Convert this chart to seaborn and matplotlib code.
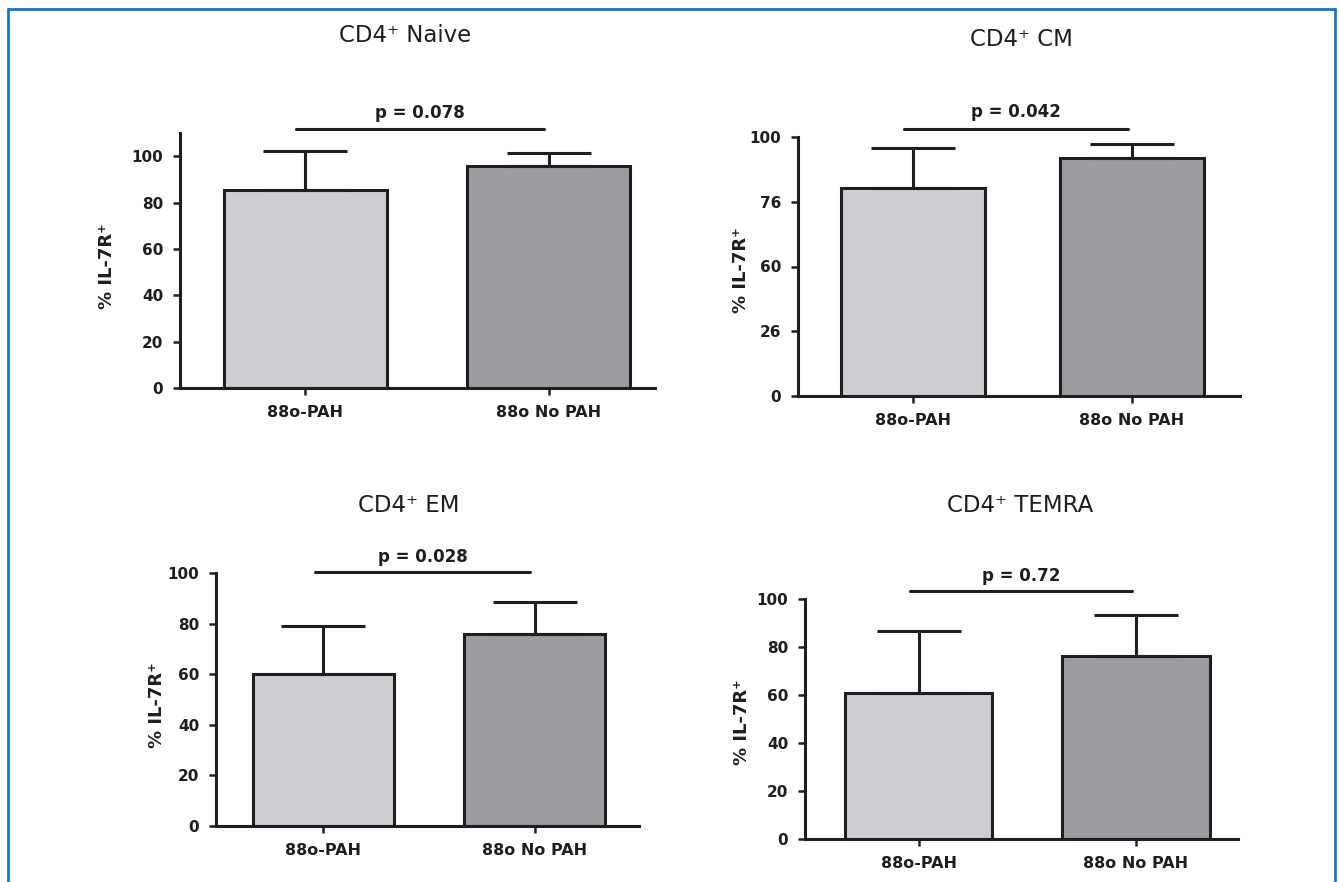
import matplotlib
matplotlib.use("Agg")
import matplotlib.pyplot as plt
import seaborn as sns
import pandas as pd
from matplotlib.lines import Line2D

# ---------------- data ----------------
groups = ["88o-PAH", "88o No PAH"]
titles = ["CD4\u207a Naive", "CD4\u207a CM", "CD4\u207a EM", "CD4\u207a TEMRA"]
means_naive = [85.3, 95.6]
sd_naive = [16.9, 5.7]
means_cm = [80.4, 91.9]
sd_cm = [15.4, 5.4]
means_em = [60.1, 75.9]
sd_em = [18.9, 12.6]
means_temra = [60.8, 76.3]
sd_temra = [25.9, 17.0]
pvals = ["p = 0.078", "p = 0.042", "p = 0.028", "p = 0.72"]
ticks_std = [0, 20, 40, 60, 80, 100]
ticklabels_std = ["0", "20", "40", "60", "80", "100"]
ticks_cm = [0, 25, 50, 75, 100]
ticklabels_cm = ["0", "26", "60", "76", "100"]
ylabel = "% IL-7R\u207a"

means = [means_naive, means_cm, means_em, means_temra]
sds = [sd_naive, sd_cm, sd_em, sd_temra]
ticks = [ticks_std, ticks_cm, ticks_std, ticks_std]
ticklabels = [ticklabels_std, ticklabels_cm, ticklabels_std, ticklabels_std]

# ---------------- layout (pixels) ----------------
W, H = 1339, 882
layout = [
    dict(l=180, r=655, t=133, b=388, ytop=110, xlim=(-0.516, 1.438), bw=0.67, py=111.6, ty=118.5,
         title=(405, 35), yl=(107, 266)),
    dict(l=798, r=1240, t=137, b=396, ytop=100, xlim=(-0.525, 1.493), bw=0.66, py=103.1, ty=109.5,
         title=(1021, 39), yl=(741, 270)),
    dict(l=216, r=639, t=573, b=826, ytop=100, xlim=(-0.509, 1.495), bw=0.67, py=100.4, ty=106.5,
         title=(409, 505), yl=(157, 705)),
    dict(l=805, r=1238, t=599, b=839, ytop=100, xlim=(-0.522, 1.469), bw=0.676, py=103.3, ty=109.5,
         title=(1020, 506), yl=(742, 722)),
]

sns.set_theme(style="white")
plt.rcParams["font.family"] = ["DejaVu Sans"]
plt.rcParams["font.weight"] = "bold"

light, dark = "#cdced1", "#9c9da1"
ink = "#1e1e1e"

fig = plt.figure(figsize=(W / 100, H / 100), dpi=100)
fig.patch.set_facecolor("white")

for i in range(4):
    L = layout[i]
    ax = fig.add_axes([L["l"] / W, 1 - L["b"] / H, (L["r"] - L["l"]) / W, (L["b"] - L["t"]) / H])
    df = pd.DataFrame({"group": groups, "value": means[i]})
    sns.barplot(data=df, x="group", y="value", hue="group", palette=[light, dark],
                width=L["bw"], edgecolor=ink, linewidth=2.2, errorbar=None,
                legend=False, ax=ax, saturation=1)
    ax.errorbar(x=[0, 1], y=means[i], yerr=[[0, 0], sds[i]], fmt="none",
                ecolor=ink, elinewidth=2.2, capsize=30, capthick=2.2, zorder=1)
    ax.set_ylim(0, L["ytop"])
    ax.set_xlim(*L["xlim"])
    ax.set_yticks(ticks[i])
    ax.set_yticklabels(ticklabels[i], fontsize=11, fontweight="bold", color=ink)
    ax.set_xticks([0, 1])
    ax.set_xticklabels(groups, fontsize=11.5, fontweight="bold", color=ink)
    ax.set_xlabel("")
    ax.set_ylabel("")
    for s in ["top", "right"]:
        ax.spines[s].set_visible(False)
    for s in ["left", "bottom"]:
        ax.spines[s].set_linewidth(2.2)
        ax.spines[s].set_color(ink)
    ax.tick_params(axis="both", direction="out", length=5, width=1.8, color=ink, pad=7,
                   left=True, bottom=True)
    ax.set_facecolor("white")
    # significance line and p-value
    ax.plot([-0.04, 0.98], [L["py"], L["py"]], color=ink, lw=2.2, clip_on=False)
    ax.text(0.47, L["ty"], pvals[i], ha="center", va="center", fontsize=12,
            fontweight="bold", color=ink, clip_on=False)
    # title and y label
    fig.text(L["title"][0] / W, 1 - L["title"][1] / H, titles[i], ha="center", va="center",
             fontsize=16.5, fontweight="normal", color=ink)
    fig.text(L["yl"][0] / W, 1 - L["yl"][1] / H, ylabel, ha="center", va="center",
             rotation=90, fontsize=13, fontweight="bold", color=ink)

# blue frame (left, top, right)
blue = "#1c74bb"
fig.add_artist(Line2D([8 / W, 8 / W], [0, 1 - 9 / H], color=blue, lw=2, transform=fig.transFigure))
fig.add_artist(Line2D([8 / W, 1335 / W], [1 - 9 / H, 1 - 9 / H], color=blue, lw=2, transform=fig.transFigure))
fig.add_artist(Line2D([1335 / W, 1335 / W], [0, 1 - 9 / H], color=blue, lw=2, transform=fig.transFigure))

fig.savefig("out.png", dpi=100, facecolor="white")
